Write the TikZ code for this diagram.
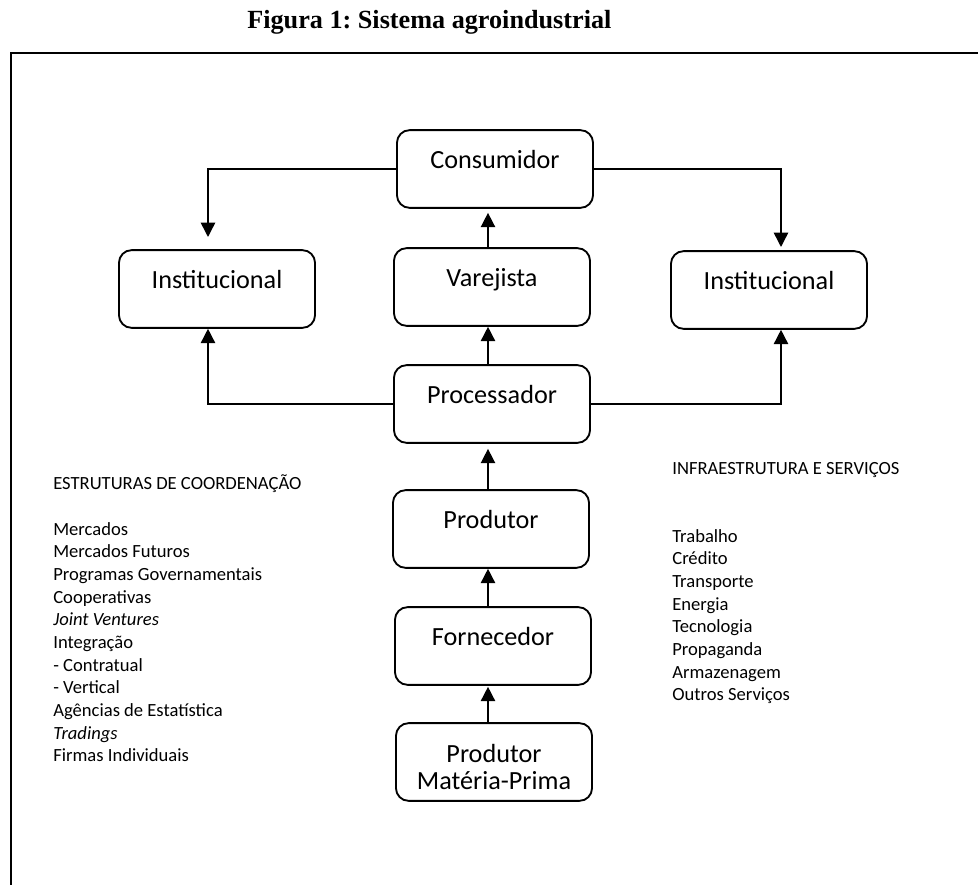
\documentclass[tikz,border=0pt]{standalone}
\usepackage{fontspec}
\setmainfont{Carlito}
\newfontfamily\titlefont{Liberation Serif}
\usetikzlibrary{arrows.meta,positioning,calc}
\frenchspacing

\begin{document}
\begin{tikzpicture}[x=0.5917pt,y=-0.5917pt,
  box/.style={draw,line width=1.1pt,rounded corners=7.5pt,minimum width=116pt,minimum height=46pt,font=\fontsize{15.5}{16}\selectfont,align=center},
  one/.style={box,text height=8pt,text depth=8pt},
  arr/.style={-{Triangle[length=8.5pt,width=8.5pt]},line width=0.9pt},
  list/.style={anchor=base west,inner sep=0pt,align=left,font=\fontsize{11}{13.43}\selectfont}]
  \useasboundingbox (0,0) rectangle (978,885);
  \node[anchor=base west,inner sep=0pt,font=\titlefont\bfseries\fontsize{15.5}{18}\selectfont] (title) at (247,29) {Figura 1: Sistema agroindustrial};
  \draw[line width=1.2pt] (978,53) -- (11,53) -- (11,885);

  % cadeia central
  \node[one] (cons) at (495,169) {Consumidor};
  \node[one] (var) at (492,287) {Varejista};
  \node[one] (proc) at (492,404) {Processador};
  \node[one] (prod) at (491,529) {Produtor};
  \node[one] (forn) at (493,646) {Fornecedor};
  \node[box] (mp) at (494,762) {\rule{0pt}{17pt}Produtor\\Matéria-Prima};
  \node[one] (instL) at (217,289) {Institucional};
  \node[one] (instR) at (769,290) {Institucional};

  \coordinate (axis) at (488,0);
  \coordinate (inL) at (208,237);
  \coordinate (inR) at (781,247);
  \draw[arr] (cons.west) -| (inL);
  \draw[arr] (cons.east) -| (inR);
  \draw[arr] (proc.west) -| (inL |- instL.south);
  \draw[arr] (proc.east) -| (inR |- instR.south);
  \draw[arr,shorten >=2.4pt] (var.north -| axis) -- (cons.south -| axis);
  \draw[arr] (proc.north -| axis) -- (var.south -| axis);
  \draw[arr,shorten >=3pt] (prod.north -| axis) -- (proc.south -| axis);
  \draw[arr] (forn.north -| axis) -- (prod.south -| axis);
  \draw[arr,shorten >=0.6pt] (mp.north -| axis) -- (forn.south -| axis);

  % listas (base = ultima linha)
  \node[list] (coord) at (53,762) {ESTRUTURAS DE COORDENAÇÃO\\[13.43pt]
    Mercados\\ Mercados Futuros\\ Programas Governamentais\\ Cooperativas\\
    \textit{Joint Ventures}\\ Integração\\ - Contratual\\ - Vertical\\
    Agências de Estatística\\ \textit{Tradings}\\ Firmas Individuais};
  \node[list] (infra) at (672,701) {INFRAESTRUTURA E SERVIÇOS\\[26.86pt]
    Trabalho\\ Crédito\\ Transporte\\ Energia\\ Tecnologia\\ Propaganda\\
    Armazenagem\\ Outros Serviços};
\end{tikzpicture}
\end{document}
